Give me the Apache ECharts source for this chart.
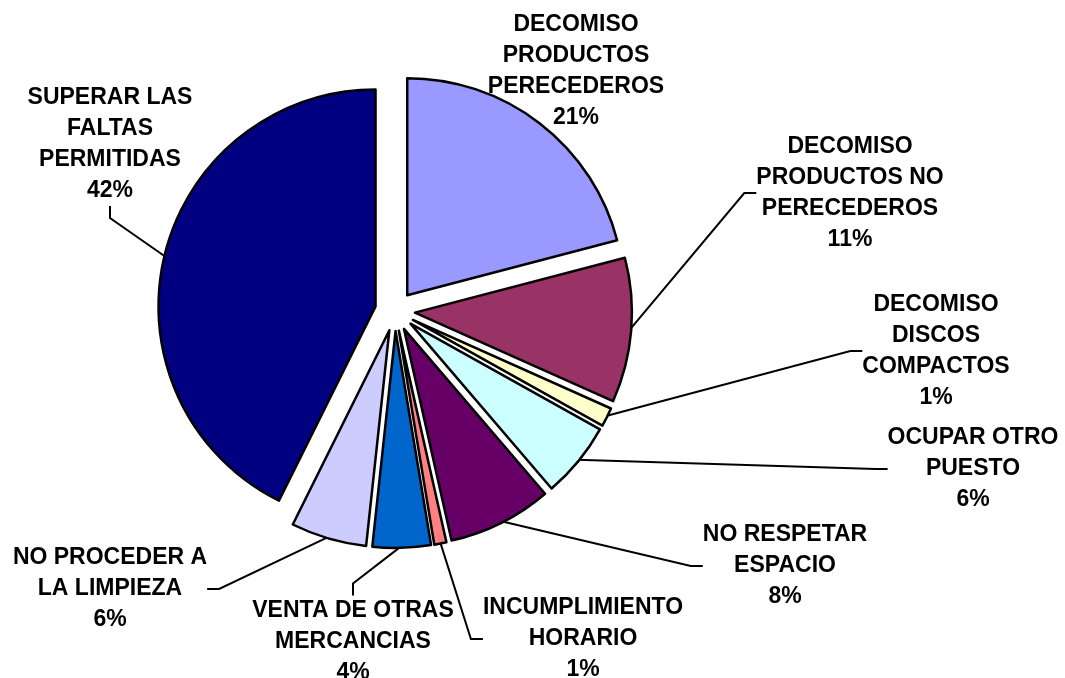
<!DOCTYPE html>
<html>
<head>
<meta charset="utf-8">
<script src="https://cdn.jsdelivr.net/npm/echarts@6/dist/echarts.min.js"></script>
<style>
  html, body { margin: 0; padding: 0; background: #fff; }
  #main { width: 1065px; height: 678px; }
</style>
</head>
<body>
<div id="main"></div>
<script>
// categorias, en el orden de las agujas del reloj desde las 12
var categorias = [
  'DECOMISO\nPRODUCTOS\nPERECEDEROS',
  'DECOMISO\nPRODUCTOS NO\nPERECEDEROS',
  'DECOMISO\nDISCOS\nCOMPACTOS',
  'OCUPAR OTRO\nPUESTO',
  'NO RESPETAR\nESPACIO',
  'INCUMPLIMIENTO\nHORARIO',
  'VENTA DE OTRAS\nMERCANCIAS',
  'NO PROCEDER A\nLA LIMPIEZA',
  'SUPERAR LAS\nFALTAS\nPERMITIDAS'
];
var porcentajes = [20.8, 10.7, 1.4, 5.6, 7.7, 0.9, 4.3, 5.6, 42.4];
var colores = ['#9999FF', '#993366', '#FFFFCC', '#CCFFFF', '#660066', '#FF8080', '#0066CC', '#CCCCFF', '#000080'];

// donde van las etiquetas (centro del bloque de texto)
var posEtiquetas = [[576, 71], [850, 193], [936, 351], [973, 469], [785, 566], [583, 639], [353, 642], [110, 589], [110, 144]];

var myChart = echarts.init(document.getElementById('main'));

// porciones separadas (todas "seleccionadas")
var porciones = categorias.map(function (c, i) {
  return { name: c, value: porcentajes[i], selected: true, itemStyle: { color: colores[i] } };
});
// misma serie, solo para las etiquetas y sus lineas
var etiquetas = categorias.map(function (c, i) {
  var d = { name: c, value: porcentajes[i] };
  if (i === 0) d.labelLine = { show: false }; // la primera no lleva linea
  return d;
});

myChart.setOption({
  animation: false,
  series: [
    {
      type: 'pie',
      z: 3,
      center: [395, 311],
      radius: 217,
      startAngle: 90,
      clockwise: true,
      selectedMode: 'multiple',
      selectedOffset: 20,
      data: porciones,
      itemStyle: { borderColor: '#000', borderWidth: 2.5 },
      select: { itemStyle: { borderColor: '#000', borderWidth: 2.5 } },
      emphasis: { disabled: true },
      label: { show: false },
      labelLine: { show: false }
    },
    {
      type: 'pie',
      z: 2,
      silent: true,
      center: [395, 311],
      radius: 235,
      startAngle: 90,
      clockwise: true,
      avoidLabelOverlap: false,
      data: etiquetas,
      itemStyle: { color: 'rgba(0,0,0,0)', borderWidth: 0 },
      emphasis: { disabled: true },
      label: {
        show: true,
        position: 'outside',
        fontFamily: 'Liberation Sans, Arial, sans-serif',
        fontWeight: 'bold',
        fontSize: 23,
        lineHeight: 31,
        color: '#000',
        align: 'center',
        formatter: function (p) {
          return p.name + '\n' + Math.round(p.value) + '%';
        }
      },
      labelLine: {
        show: true,
        length: 10,
        length2: 12,
        lineStyle: { color: '#000', width: 2 }
      },
      labelLayout: function (params) {
        var p = posEtiquetas[params.dataIndex];
        return { x: p[0], y: p[1], align: 'center', verticalAlign: 'middle' };
      }
    }
  ]
});
</script>
</body>
</html>
